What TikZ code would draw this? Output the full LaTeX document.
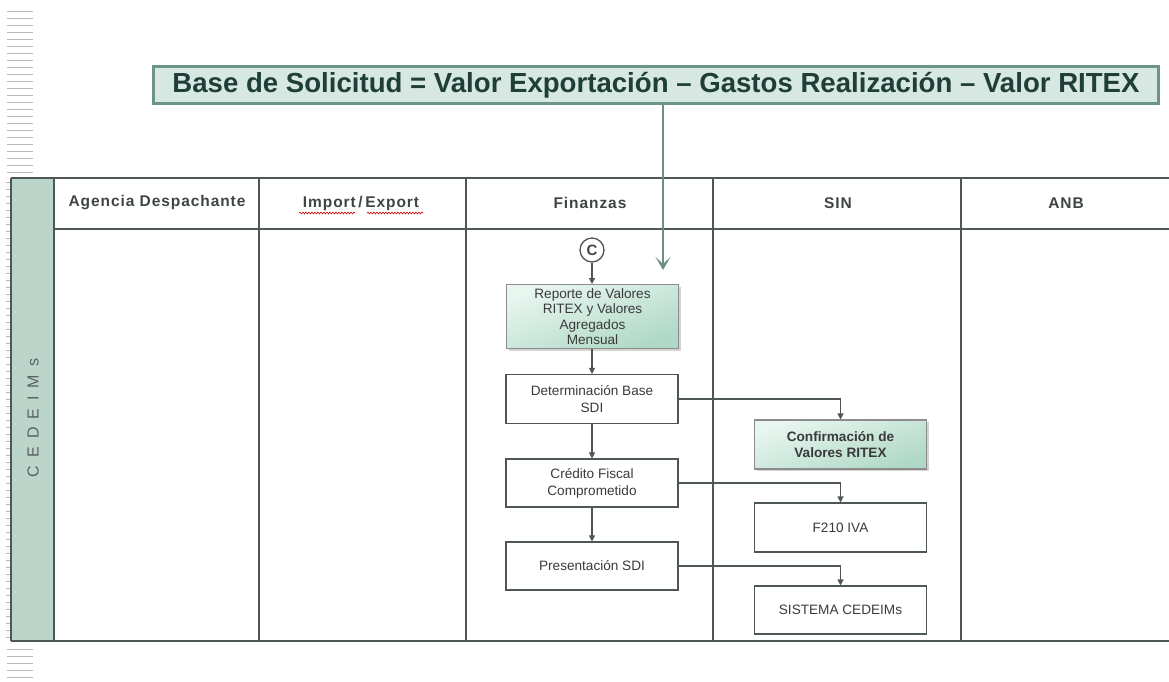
\documentclass[tikz,border=0pt]{standalone}
\usepackage{fontspec}
\setmainfont{Liberation Sans}
\usetikzlibrary{arrows.meta,shadows,decorations.pathmorphing}
\definecolor{lanecol}{HTML}{4F5755}
\definecolor{lanefill}{HTML}{BBD5CB}
\definecolor{tickcol}{HTML}{B8B8B8}
\definecolor{titlefill}{HTML}{D6E8E1}
\definecolor{titleborder}{HTML}{6E9387}
\definecolor{titletext}{HTML}{1E3E37}
\definecolor{headtext}{HTML}{3E4544}
\definecolor{nodetext}{HTML}{3A3A3A}
\definecolor{greentop}{HTML}{E8F6F0}
\definecolor{greenbot}{HTML}{AFD8C6}
\definecolor{arrowcol}{HTML}{6A9085}
\tikzset{
  tick/.style={draw=tickcol, line width=0.9pt},
  lane/.style={draw=lanecol, line width=1.4pt},
  headtxt/.style={font=\fontsize{15.5}{17}\selectfont\bfseries\addfontfeature{LetterSpace=6}, text=headtext},
  procbox/.style={draw=lanecol, line width=1.1pt, fill=white, minimum width=172pt, minimum height=49pt, inner sep=1pt, align=center, font=\fontsize{13.6}{17}\selectfont, text=nodetext},
  greenbox/.style={procbox, draw=gray!90, top color=greentop, bottom color=greenbot, shading angle=20,
     drop shadow={shadow xshift=2pt, shadow yshift=-2pt, opacity=0.35, fill=gray}},
  flow/.style={draw=lanecol, line width=1.1pt, -{Triangle[length=6pt,width=6pt]}},
  squig/.style={draw=red!80!black, line width=0.6pt, decorate, decoration={snake, amplitude=0.9pt, segment length=3pt}}
}
\begin{document}
\begin{tikzpicture}[x=1pt,y=-1pt]
\useasboundingbox (0,0) rectangle (1169,681);
% tick strips on the left
\foreach \y in {11,18,...,172} \draw[tick] (7,\y) -- (33,\y);
\foreach \y in {182,189,...,638} \draw[tick] (6,\y) -- (11,\y);
\foreach \y in {649,656,...,677} \draw[tick] (7,\y) -- (33,\y);
% swimlanes
\fill[lanefill] (11,178) rectangle (54,641);
\draw[lane] (11,178) -- (1169,178);
\draw[lane] (54,229) -- (1169,229);
\draw[lane] (11,641) -- (1169,641);
\foreach \x in {11,54,259,466,713,961} \draw[lane] (\x,178) -- (\x,641);
% lane label
\node[rotate=90, font=\fontsize{16}{18}\selectfont, text=headtext!85] (cedeims) at (33,418) {C\,\,\,E\,\,\,D\,\,\,E\,\,\,I\,\,\,M\,\,\,s};
% headers
\node[headtxt] (h1) at (157,203) {Agencia Despachante};
\node[headtxt] (h2) at (361,203) {Import\,/\,Export};
\node[headtxt] (h3) at (590,203) {Finanzas};
\node[headtxt] (h4) at (838,203) {SIN};
\node[headtxt] (h5) at (1066,203) {ANB};
\draw[squig] (299,213) -- (355,213);
\draw[squig] (367,213) -- (423,213);
% title
\node[draw=titleborder, line width=2.6pt, fill=titlefill, minimum width=1005pt, minimum height=37pt,
      inner sep=0pt, text=titletext, font=\fontsize{27.6}{30}\selectfont\bfseries,
      drop shadow={shadow xshift=1.5pt, shadow yshift=-1.5pt, opacity=0.4, fill=gray}]
      (title) at (656,85) {Base de Solicitud = Valor Exportación – Gastos Realización – Valor RITEX};
\coordinate (tarrow) at (663,270);
\draw[draw=arrowcol, line width=1.4pt, -{Stealth[length=13pt,width=15pt,inset=7pt]}] (title.south -| tarrow) -- (tarrow);
% Finanzas lane
\node[circle, draw=lanecol, line width=1.3pt, fill=white, minimum size=24pt, inner sep=0pt,
      font=\fontsize{15}{15}\selectfont\bfseries, text=headtext] (c) at (592,250) {C};
\node[greenbox, minimum height=64pt, inner sep=0pt, anchor=north, font=\fontsize{13.6}{15.6}\selectfont] (rep) at (592.5,284) {Reporte de Valores\\RITEX y Valores\\Agregados\\Mensual};
\node[procbox] (det) at (592,399) {Determinación Base\\SDI};
\node[procbox, minimum height=48pt] (cred) at (592,483) {Crédito Fiscal\\Comprometido};
\node[procbox, minimum height=48pt] (pres) at (592,566) {Presentación SDI};
% SIN lane
\node[greenbox, font=\fontsize{13.6}{16}\selectfont\bfseries] (conf) at (840.5,444.5) {Confirmación de\\Valores RITEX};
\node[procbox] (f210) at (840.5,527.5) {F210 IVA};
\node[procbox, minimum height=48pt] (sist) at (840.5,610) {SISTEMA CEDEIMs};
% connectors
\draw[flow] (c) -- (c |- rep.north);
\draw[flow] (rep.south -| det.north) -- (det.north);
\draw[flow] (det) -- (cred);
\draw[flow] (cred) -- (pres);
\draw[flow] (det.east) -| (conf.north);
\draw[flow] (cred.east) -| (f210.north);
\draw[flow] (pres.east) -| (sist.north);
\end{tikzpicture}
\end{document}
